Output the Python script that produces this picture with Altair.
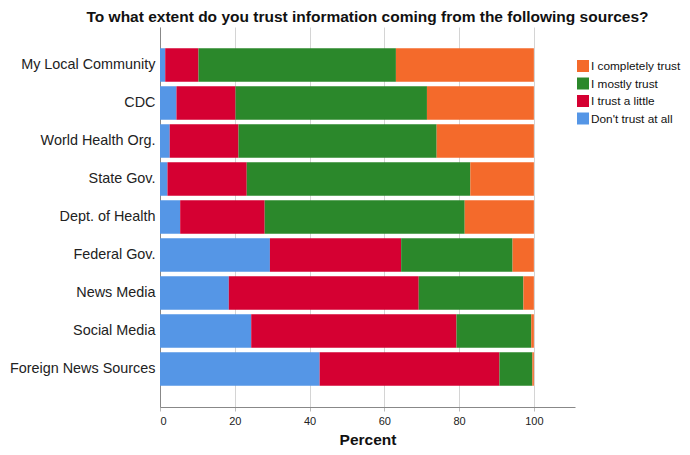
import altair as alt
import pandas as pd

sources = ["My Local Community", "CDC", "World Health Org.", "State Gov.",
           "Dept. of Health", "Federal Gov.", "News Media", "Social Media",
           "Foreign News Sources"]
dont_trust = [1.4, 4.4, 2.6, 2.0, 5.4, 29.4, 18.4, 24.4, 42.7]
trust_little = [8.9, 15.8, 18.4, 21.2, 22.6, 35.1, 50.8, 54.9, 48.1]
mostly_trust = [52.8, 51.2, 53.0, 59.8, 53.5, 29.8, 28.0, 20.0, 8.8]
completely_trust = [36.9, 28.6, 26.0, 17.0, 18.5, 5.7, 2.8, 0.7, 0.4]

levels = ["I completely trust", "I mostly trust", "I trust a little", "Don't trust at all"]
colors = ["#F46A2B", "#2B882B", "#D50032", "#5596E6"]
stack_order = {"Don't trust at all": 0, "I trust a little": 1, "I mostly trust": 2, "I completely trust": 3}

rows = []
for i, s in enumerate(sources):
    for lvl, vals in [("Don't trust at all", dont_trust), ("I trust a little", trust_little),
                      ("I mostly trust", mostly_trust), ("I completely trust", completely_trust)]:
        rows.append({"source": s, "level": lvl, "pct": vals[i], "ord": stack_order[lvl]})
df = pd.DataFrame(rows)

font = "Liberation Sans"

chart = alt.Chart(df).mark_bar(size=33.5).encode(
    x=alt.X("pct:Q", stack="zero",
            scale=alt.Scale(domain=[0, 111], nice=False),
            axis=alt.Axis(title="Percent", values=[0, 20, 40, 60, 80, 100],
                          grid=True, gridColor="#d4d4d4", domainColor="#888888",
                          tickColor="#bbbbbb", tickSize=4, labelFontSize=11,
                          labelColor="#222222", titleFontSize=15.5, titleFontWeight="bold",
                          titleColor="#111111", titlePadding=6, labelPadding=4)),
    y=alt.Y("source:N", sort=sources,
            scale=alt.Scale(paddingInner=0.12, paddingOuter=0.56),
            axis=alt.Axis(title=None, ticks=False, grid=False, domainColor="#888888",
                          labelFontSize=14.4, labelColor="#222222", labelPadding=5,
                          labelLimit=300)),
    color=alt.Color("level:N", scale=alt.Scale(domain=levels, range=colors),
                    legend=alt.Legend(title=None, orient="none", legendX=417, legendY=33,
                                      symbolType="square", symbolSize=144,
                                      symbolStrokeWidth=0, symbolOpacity=1,
                                      labelFontSize=11.8, labelColor="#111111",
                                      rowPadding=4.5, labelOffset=2, labelLimit=200)),
    order=alt.Order("ord:Q", sort="ascending"),
).properties(
    width=415, height=380,
    title=alt.TitleParams("To what extent do you trust information coming from the following sources?",
                          fontSize=15.5, fontWeight="bold", color="#111111", offset=2, font=font),
    autosize=alt.AutoSizeParams(type="none"),
    padding={"left": 152, "top": 19, "right": 107, "bottom": 40},
).configure(font=font).configure_view(stroke=None).configure_axis(labelFont=font, titleFont=font).configure_legend(labelFont=font)

chart.save("out.html", embed_options={"renderer": "svg", "actions": False})
